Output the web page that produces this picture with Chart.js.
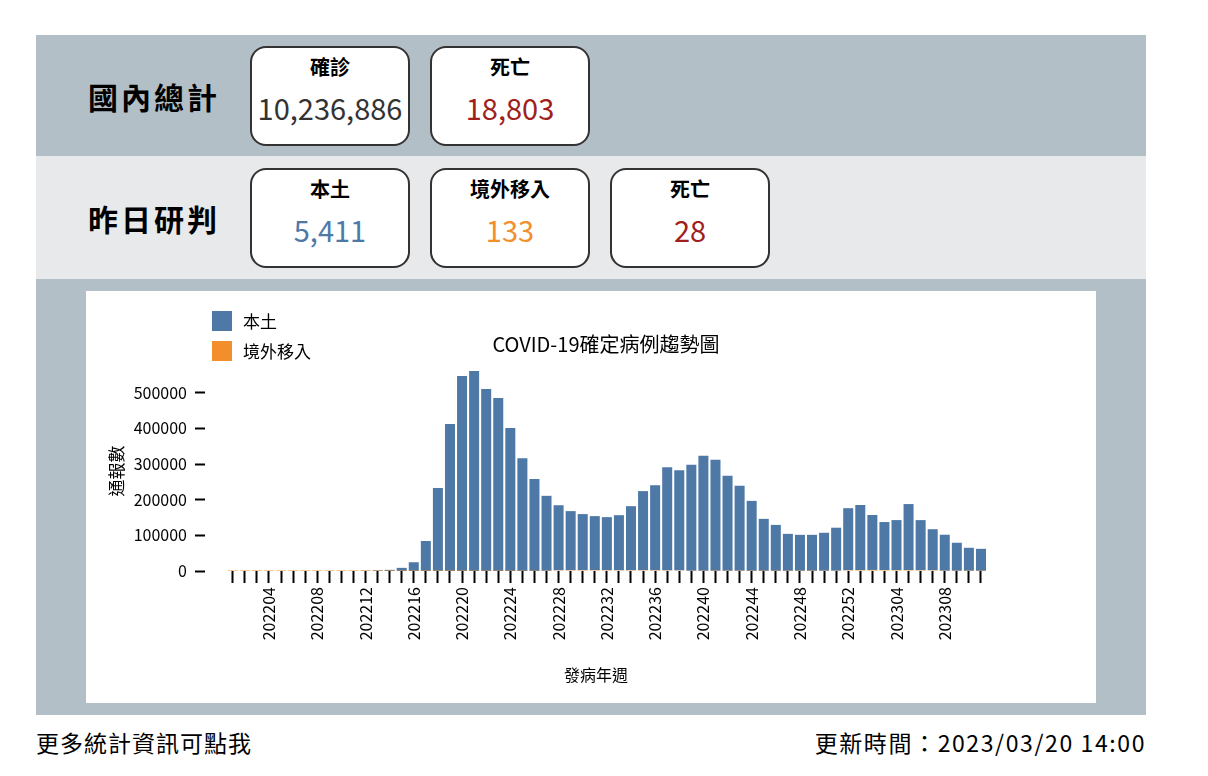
<!DOCTYPE html>
<html>
<head>
<meta charset="utf-8">
<script src="https://cdn.jsdelivr.net/npm/chart.js@4.4.1/dist/chart.umd.min.js"></script>
<style>
body { margin: 0; background: #fff; font-family: "Noto Sans CJK TC", sans-serif; color: #000; }
.row { position: absolute; left: 36px; width: 1110px; }
.r1 { top: 35px; height: 121px; background: #b3bfc7; }
.r2 { top: 156px; height: 123px; background: #e8e9eb; }
.r3 { top: 279px; height: 436px; background: #b3bfc7; }
.lbl { position: absolute; left: 52px; font-size: 30px; font-weight: bold; letter-spacing: 3px; line-height: 40px; }
.card { position: absolute; width: 160px; height: 100px; box-sizing: border-box; border: 2px solid #333; border-radius: 16px; background: #fff; }
.card .t { position: absolute; top: 6px; width: 100%; text-align: center; font-size: 20px; font-weight: bold; line-height: 26px; }
.card .v { position: absolute; top: 40px; width: 100%; text-align: center; font-size: 29px; line-height: 38px; color: #333; }
.box { position: absolute; left: 50px; top: 12px; width: 1010px; height: 412px; background: #fff; }
#legend { position: absolute; left: 126px; top: 20px; }
#legend div { height: 30px; position: relative; }
#legend span.sw { position: absolute; left: 0; top: 0; width: 20px; height: 20px; }
#legend span.tx { position: absolute; left: 31px; top: -2px; font-size: 17px; line-height: 24px; white-space: nowrap; }
#title { position: absolute; left: 320px; width: 400px; top: 40px; text-align: center; font-size: 20px; line-height: 26px; }
.foot { position: absolute; top: 727px; font-size: 23px; letter-spacing: 1px; line-height: 30px; }
</style>
</head>
<body>
<div class="row r1">
  <div class="lbl" style="top:41px">國內總計</div>
  <div class="card" style="left:214px;top:11px"><div class="t">確診</div><div class="v">10,236,886</div></div>
  <div class="card" style="left:394px;top:11px"><div class="t">死亡</div><div class="v" style="color:#a0201c">18,803</div></div>
</div>
<div class="row r2">
  <div class="lbl" style="top:42px">昨日研判</div>
  <div class="card" style="left:214px;top:12px"><div class="t">本土</div><div class="v" style="color:#4e79a7">5,411</div></div>
  <div class="card" style="left:394px;top:12px"><div class="t">境外移入</div><div class="v" style="color:#f28e2b">133</div></div>
  <div class="card" style="left:574px;top:12px"><div class="t">死亡</div><div class="v" style="color:#a0201c">28</div></div>
</div>
<div class="row r3">
  <div class="box">
    <canvas id="trend" width="1010" height="412"></canvas>
    <div id="legend"></div>
    <div id="title">COVID-19確定病例趨勢圖</div>
  </div>
</div>
<div class="foot" style="left:36px">更多統計資訊可點我</div>
<div class="foot" style="right:62px;letter-spacing:1.6px">更新時間：2023/03/20 14:00</div>

<script>
// 發病年週 (週別)
const weeks = [
  '202201','202202','202203','202204','202205','202206','202207','202208','202209','202210',
  '202211','202212','202213','202214','202215','202216','202217','202218','202219','202220',
  '202221','202222','202223','202224','202225','202226','202227','202228','202229','202230',
  '202231','202232','202233','202234','202235','202236','202237','202238','202239','202240',
  '202241','202242','202243','202244','202245','202246','202247','202248','202249','202250',
  '202251','202252','202301','202302','202303','202304','202305','202306','202307','202308',
  '202309','202310','202311'
];

// 本土 通報數
const local = [
  40, 60, 30, 25, 15, 10, 20, 35, 30, 45,
  80, 700, 1800, 3200, 8800, 24500, 84100, 232700, 412000, 546600,
  560600, 510200, 485000, 400900, 315800, 257900, 210200, 182200, 165400, 157000,
  151400, 148600, 154200, 179400, 221500, 238300, 288700, 280300, 297100, 322400,
  311200, 266300, 238300, 196200, 145800, 128900, 103700, 100900, 100900, 106500,
  120500, 173800, 182200, 154200, 134600, 140200, 185000, 140200, 114900, 100900,
  78500, 64500, 61700
];

// 境外移入 通報數
const imported = [
  20, 25, 20, 15, 12, 10, 12, 15, 18, 20,
  25, 30, 40, 50, 60, 80, 100, 120, 150, 180,
  200, 220, 250, 280, 300, 350, 600, 2200, 2500, 2600,
  2500, 2400, 2300, 2400, 2500, 2400, 2300, 2100, 900, 700,
  600, 550, 500, 450, 400, 400, 450, 500, 550, 700,
  900, 2400, 2800, 2900, 2700, 2600, 2700, 2500, 2300, 800,
  700, 600, 500
];

// 通報數 axis ticks
const yTicks = [0, 100000, 200000, 300000, 400000, 500000];

const blue = '#4e79a7';
const orange = '#f28e2b';

Chart.defaults.font.family = '"Noto Sans CJK TC", sans-serif';
Chart.defaults.color = '#000';

let yMax = 0;
for (let i = 0; i < weeks.length; i++) {
  if (local[i] + imported[i] > yMax) yMax = local[i] + imported[i];
}

const datasets = [
  { label: '境外移入', data: imported.map(function(v, i) { return { x: i, y: v }; }), backgroundColor: orange },
  { label: '本土', data: local.map(function(v, i) { return { x: i, y: v }; }), backgroundColor: blue }
];

new Chart(document.getElementById('trend'), {
  type: 'bar',
  data: { datasets: datasets },
  options: {
    responsive: false,
    animation: false,
    layout: { padding: { top: 80, right: 109, left: 0, bottom: 0 } },
    datasets: { bar: { barPercentage: 0.83, categoryPercentage: 1, inflateAmount: 0 } },
    plugins: { legend: { display: false }, tooltip: { enabled: false } },
    scales: {
      x: {
        type: 'linear', min: -2.3, max: 62.5, stacked: true, offset: false,
        afterBuildTicks: function(s) { s.ticks = weeks.map(function(w, i) { return { value: i }; }); },
        afterFit: function(s) { s.height = 132; },
        ticks: {
          autoSkip: false, minRotation: 90, maxRotation: 90, padding: 4,
          font: { size: 16 }, color: '#000',
          callback: function(v) { return v % 4 === 3 ? weeks[v] : ''; }
        },
        grid: { offset: false, drawOnChartArea: false, drawTicks: true, tickLength: 12, tickWidth: 2, tickColor: '#000' },
        border: { display: false },
        title: { display: true, text: '發病年週', font: { size: 16 }, color: '#000', padding: { top: 4, bottom: 18 } }
      },
      y: {
        stacked: true, min: 0, max: yMax,
        afterBuildTicks: function(s) { s.ticks = yTicks.map(function(v) { return { value: v }; }); },
        afterFit: function(s) { s.width = 119; },
        ticks: { padding: 8, font: { size: 16 }, color: '#000',
          callback: function(v) { return String(v); } },
        grid: { drawOnChartArea: false, drawTicks: true, tickLength: 10, tickWidth: 2, tickColor: '#000' },
        border: { display: false },
        title: { display: true, text: '通報數', font: { size: 17 }, color: '#000', padding: { top: 20, bottom: 4 } }
      }
    }
  }
});

// legend: 本土 first, then 境外移入
document.getElementById('legend').innerHTML = datasets.slice().reverse().map(function(d) {
  return '<div><span class="sw" style="background:' + d.backgroundColor + '"></span><span class="tx">' + d.label + '</span></div>';
}).join('');
</script>
</body>
</html>
